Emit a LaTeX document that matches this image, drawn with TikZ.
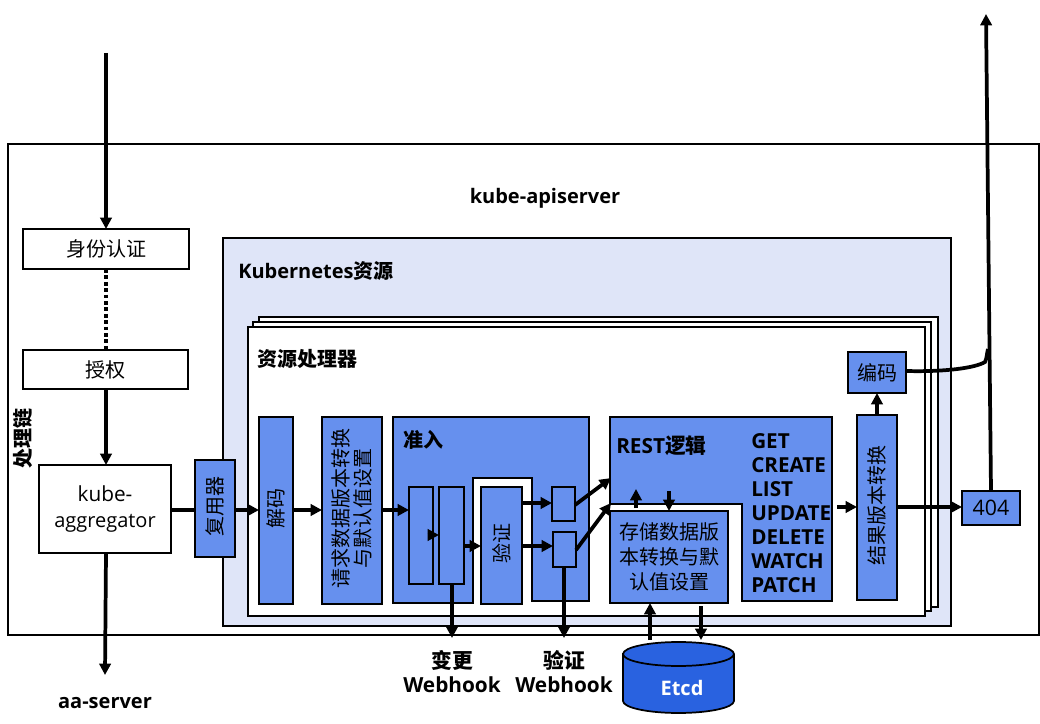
\documentclass[tikz,border=0pt]{standalone}
\usepackage{fontspec}
\setmainfont{Open Sans}
\newfontfamily\cjk{Noto Sans CJK SC}
\usetikzlibrary{arrows.meta}
\definecolor{blu}{HTML}{6690EE}
\definecolor{lite}{HTML}{DFE5F8}
\definecolor{etcdc}{HTML}{2962E0}
\tikzset{
 frame/.style={draw=black,line width=1.6pt},
 bluebox/.style={frame,fill=blu},
 whitebox/.style={frame,fill=white},
 arr/.style={line width=2.8pt,-{Triangle[length=8.5pt,width=8.5pt]}},
 plain/.style={line width=2.8pt},
 lab/.style={inner sep=0pt,font=\fontsize{15}{19}\selectfont,align=center},
 rlab/.style={lab,rotate=90,xshift=1.5pt},
 blab/.style={inner sep=0pt,font=\fontsize{15}{18}\selectfont\bfseries,align=center},
}
\newcommand\bx[7][]{%
 \pgfmathsetlengthmacro\boxw{(#5-#3)*0.75pt}%
 \pgfmathsetlengthmacro\boxh{(#6-#4)*0.75pt}%
 \pgfmathsetmacro\boxcx{(#3+#5)/2}%
 \pgfmathsetmacro\boxcy{(#4+#6)/2}%
 \node[#1,minimum width=\boxw,minimum height=\boxh,inner sep=0pt,outer sep=0pt,lab] (#2) at (\boxcx,\boxcy) {#7};%
}
\begin{document}
\begin{tikzpicture}[x=0.75pt,y=-0.75pt]
\useasboundingbox (0,0) rectangle (1040,724);
\fill[white] (0,0) rectangle (1040,724);
% containers
\bx[frame]{outer}{8}{144}{1039}{635}{}
\bx[frame,fill=lite]{k8s}{223}{238}{951}{626}{}
\bx[whitebox]{pageC}{259}{317}{938}{607}{}
\bx[whitebox]{pageB}{253}{322}{931}{611}{}
\bx[whitebox]{pageA}{248}{327}{925}{616}{}
% titles
\node[blab] (tapi) at (545,198) {kube-apiserver};
\node[blab,anchor=west] (tk8s) at (238,271) {Kubernetes{\cjk 资源}};
\node[blab,anchor=west] (tres) at (257,359) {\cjk 资源处理器};
\node[blab,rotate=90] (tchain) at (23,438.5) {\cjk 处理链};
% left column
\bx[whitebox]{auth}{23}{229}{189}{269}{\raisebox{-1.5pt}{\cjk 身份认证}}
\bx[whitebox]{authz}{23}{350}{188}{389}{\raisebox{-1.5pt}{\cjk 授权}}
\bx[whitebox]{agg}{39}{465}{171}{553}{\fontsize{15.6}{20}\selectfont kube-\\[0pt]aggregator}
\bx[bluebox]{mux}{195}{460}{235}{557}{}
\node[rlab] (tmux) at (mux.center) {\cjk 复用器};
% pipeline
\bx[bluebox]{dec}{259}{417}{293}{604}{}
\node[rlab] (tdec) at (dec.center) {\cjk 解码};
\bx[bluebox]{req}{322}{417}{382}{604}{}
\node[rlab,font=\fontsize{15}{17}\selectfont] (treq) at (req.center) {\cjk 请求数据版本转换\\\cjk 与默认值设置};
% admission polygon
\draw[bluebox] (393,417) -- (589,417) -- (589,601) -- (532,601) -- (532,478) -- (473,478) -- (473,603) -- (393,603) -- cycle;
\node[blab,anchor=west] (tadm) at (403,440) {\cjk 准入};
\bx[bluebox]{m1}{409}{487}{433}{584}{}
\bx[bluebox]{m2}{439}{487}{464}{584}{}
\bx[bluebox]{val}{481}{487}{522}{604}{}
\node[rlab] (tval) at (val.center) {\cjk 验证};
\bx[bluebox]{s1}{552}{487}{575}{521}{}
\bx[bluebox]{s2}{553}{532}{576}{567}{}
% REST polygon
\draw[bluebox] (610,417) -- (832,417) -- (832,601) -- (742,601) -- (742,504) -- (610,504) -- cycle;
\coordinate (restA) at (611,478);
\coordinate (restB) at (611,503);
\node[blab,anchor=west,font=\fontsize{15.6}{18}\selectfont\bfseries] (trest) at (616,446) {REST{\cjk 逻辑}};
\node[blab,anchor=north west,font=\fontsize{15.5}{18}\selectfont\bfseries,align=left] (tverbs) at (751,433) {GET\\CREATE\\LIST\\UPDATE\\DELETE\\WATCH\\PATCH};
\bx[bluebox]{store}{610}{511}{728}{603}{\cjk 存储数据版\\\cjk 本转换与默\\\cjk 认值设置}
% right
\bx[bluebox]{res}{857}{415}{897}{600}{}
\node[rlab] (tres2) at (res.center) {\cjk 结果版本转换};
\bx[bluebox]{enc}{848}{352}{906}{393}{\raisebox{-1pt}{\cjk 编码}}
\bx[bluebox]{nf}{962}{491}{1020}{525}{\fontsize{16}{19}\selectfont 404}
% etcd
\draw[line width=1.3pt,fill=etcdc] (623,654) -- (623,701) arc[start angle=180,end angle=360,x radius=41.6pt,y radius=9pt] -- (734,654) arc[start angle=0,end angle=180,x radius=41.6pt,y radius=9pt] -- cycle;
\draw[line width=1.3pt] (623,654) arc[start angle=180,end angle=360,x radius=41.6pt,y radius=9pt];
\node[blab,text=white] (tetcd) at (682,688) {Etcd};
% external labels
\node[blab,font=\fontsize{15.6}{18}\selectfont\bfseries] (wh1) at (452,672) {\cjk 变更\\Webhook};
\node[blab,font=\fontsize{15.6}{18}\selectfont\bfseries] (wh2) at (564,672) {\cjk 验证\\Webhook};
\node[blab] (taa) at (105,703) {aa-server};
% free ends
\coordinate (inTop) at (106,53);
\coordinate (outTop) at (986,14);
\coordinate (aaEnd) at (105,675);
\coordinate (wh1End) at (452,638);
\coordinate (wh2End) at (564,638);
% connectors left
\draw[arr] (inTop) -- (inTop |- auth.north);
\draw[line width=2.8pt,dotted] (auth.south -| inTop) -- (authz.north -| inTop);
\draw[arr] (authz.south -| inTop) -- (agg.north -| inTop);
\draw[arr] (agg.south -| inTop) -- (aaEnd);
\draw[plain] (agg.east |- 0,510) -- (mux.west |- 0,510);
\draw[arr] (mux.east |- 0,510) -- (dec.west |- 0,510);
\draw[arr] (dec.east |- 0,510) -- (req.west |- 0,510);
\draw[arr] (req.east |- 0,510) -- (m1.west |- 0,510);
% inside admission
\draw[arr] ([xshift=-8.5pt]m2.west |- 0,535) -- (m2.west |- 0,535);
\draw[arr] (m2.east |- 0,546) -- (val.west |- 0,546);
\draw[arr] (val.east |- 0,503) -- (s1.west |- 0,503);
\draw[arr] (val.east |- 0,546) -- (s2.west |- 0,546);
\draw[arr] (s1.east |- 0,505) -- (restA);
\draw[arr] (s2.east |- 0,550) -- (restB);
\draw[arr] (m2.south -| wh1End) -- (wh1End);
\draw[arr] (s2.south -| wh2End) -- (wh2End);
% REST / store
\coordinate (rs1) at (636,489);
\coordinate (rs2) at (669,491);
\draw[arr] (store.north -| rs1) ++(0,-3) -- (rs1);
\draw[arr] (rs2) -- (store.north -| rs2);
\coordinate (ea) at (650,640);
\coordinate (eb) at (701,640);
\draw[arr] (ea) -- (store.south -| ea);
\draw[arr] ([yshift=-2.5pt]store.south -| eb) -- (eb);
% result
\coordinate (vend) at (837,507);
\draw[arr] (vend) -- (res.west |- vend);
\draw[arr] (res.north -| enc.south) -- (enc.south);
\draw[arr] (res.east |- vend) -- (nf.west |- vend);
\coordinate (nfTop) at (991,491);
\draw[arr] (nfTop) -- (outTop);
\draw[line width=2.8pt] (enc.east |- 0,371) .. controls (945,372) and (975,368) .. (985,362) .. controls (987,358) and (987,352) .. (988,349);
\end{tikzpicture}
\end{document}
